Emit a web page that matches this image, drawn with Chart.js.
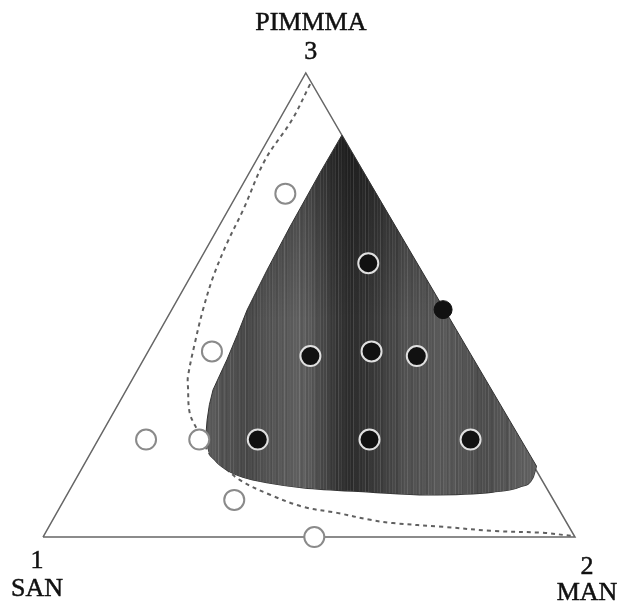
<!DOCTYPE html>
<html>
<head>
<meta charset="utf-8">
<style>
  html, body { margin: 0; padding: 0; background: #fff; }
  #chart { display: block; }
</style>
</head>
<body>
<canvas id="chart" width="621" height="601"></canvas>
<script src="https://cdn.jsdelivr.net/npm/chart.js@4/dist/chart.umd.min.js"></script>
<script>
// compositions are [MAN fraction, PIMMMA fraction]; SAN is what is left
var vertexNames = ['SAN', 'MAN', 'PIMMMA'];
var vertexNumbers = ['1', '2', '3'];
var vertexMan = [0, 1, 0];
var vertexPim = [0, 0, 1];

// open circles
var openMan = [0.09, 0.12, 0.09, 0.19, 0.32, 0.51];
var openPim = [0.74, 0.40, 0.21, 0.21, 0.08, 0.00];

// filled circles
var filledMan = [0.32, 0.31, 0.42, 0.51, 0.30, 0.51, 0.70];
var filledPim = [0.59, 0.39, 0.40, 0.39, 0.21, 0.21, 0.21];

// filled circle sitting on the MAN-PIMMMA side
var edgeMan = [0.51];
var edgePim = [0.49];

// shaded region, upper and lower outline (left to right)
var regionTopMan = [0.195, 0.184, 0.172, 0.163, 0.160, 0.157, 0.150, 0.142, 0.137, 0.134, 0.133, 0.134, 0.852];
var regionTopPim = [0.226, 0.252, 0.285, 0.317, 0.349, 0.382, 0.436, 0.489, 0.575, 0.668, 0.785, 0.866, 0.153];
var regionLowMan = [0.195, 0.214, 0.241, 0.275, 0.312, 0.369, 0.437, 0.567, 0.677, 0.798, 0.843, 0.858, 0.852];
var regionLowPim = [0.226, 0.194, 0.166, 0.144, 0.129, 0.116, 0.106, 0.097, 0.091, 0.097, 0.108, 0.127, 0.153];

// dashed boundary, from the PIMMMA corner down to the MAN corner
var dashMan = [0.020, 0.024, 0.016, 0.028, 0.033, 0.043, 0.059, 0.079, 0.102, 0.113, 0.144, 0.176, 0.227, 0.254, 0.309, 0.382, 0.457, 0.527, 0.597, 0.643, 0.741, 0.840, 0.936, 0.995];
var dashPim = [0.976, 0.899, 0.813, 0.705, 0.634, 0.560, 0.489, 0.418, 0.345, 0.323, 0.267, 0.231, 0.177, 0.159, 0.123, 0.091, 0.065, 0.052, 0.037, 0.030, 0.022, 0.013, 0.009, 0.002];

// the printed triangle leans a little: apex is not quite over the base midpoint
var apexX = 0.494;

function toXY(man, pim) {
  return { x: man + apexX * pim, y: pim };
}
function points(man, pim) {
  return man.map(function(m, i) { return toXY(m, pim[i]); });
}

var triangle = points(vertexMan.concat([vertexMan[0]]), vertexPim.concat([vertexPim[0]]));

// grey scan-like texture for the shaded region
function makeShade() {
  var c = document.createElement('canvas');
  c.width = 621; c.height = 601;
  var g = c.getContext('2d');
  var h = g.createLinearGradient(0, 0, 621, 0);
  h.addColorStop(0, '#5e5e5e');
  h.addColorStop(210 / 621, '#5c5c5c');
  h.addColorStop(245 / 621, '#494949');
  h.addColorStop(280 / 621, '#595959');
  h.addColorStop(305 / 621, '#616161');
  h.addColorStop(330 / 621, '#3e3e3e');
  h.addColorStop(350 / 621, '#2c2c2c');
  h.addColorStop(378 / 621, '#3c3c3c');
  h.addColorStop(405 / 621, '#515151');
  h.addColorStop(445 / 621, '#5a5a5a');
  h.addColorStop(485 / 621, '#4e4e4e');
  h.addColorStop(525 / 621, '#606060');
  h.addColorStop(1, '#606060');
  g.fillStyle = h;
  g.fillRect(0, 0, 621, 601);
  var v = g.createLinearGradient(0, 130, 0, 320);
  v.addColorStop(0, 'rgba(0,0,0,0.35)');
  v.addColorStop(1, 'rgba(0,0,0,0)');
  g.fillStyle = v;
  g.fillRect(0, 0, 621, 601);
  for (var x = 200; x < 550; x += 3) {
    var a = 0.07 * (1 + Math.sin(x * 0.7) * Math.cos(x * 0.23));
    g.fillStyle = 'rgba(255,255,255,' + a.toFixed(3) + ')';
    g.fillRect(x, 0, 1, 601);
  }
  for (var x2 = 201; x2 < 550; x2 += 5) {
    var b = 0.06 * (1 + Math.cos(x2 * 0.31) * Math.sin(x2 * 0.09));
    g.fillStyle = 'rgba(0,0,0,' + b.toFixed(3) + ')';
    g.fillRect(x2, 0, 2, 601);
  }
  return g.createPattern(c, 'no-repeat');
}

var labelOffsets = [
  // number dx, dy, name dx, dy
  [-6, 24, -6, 52],
  [12, 30, 12, 56],
  [5, -21, 5, -50]
];

var vertexLabels = {
  id: 'vertexLabels',
  afterDatasetsDraw: function(chart) {
    var ctx = chart.ctx;
    var xs = chart.scales.x, ys = chart.scales.y;
    ctx.save();
    ctx.font = '26px "Liberation Serif", serif';
    ctx.fillStyle = '#111';
    ctx.strokeStyle = '#111';
    ctx.lineWidth = 0.5;
    ctx.textAlign = 'center';
    ctx.textBaseline = 'middle';
    vertexNames.forEach(function(name, i) {
      var p = toXY(vertexMan[i], vertexPim[i]);
      var px = xs.getPixelForValue(p.x), py = ys.getPixelForValue(p.y);
      var o = labelOffsets[i];
      ctx.fillText(vertexNumbers[i], px + o[0], py + o[1]);
      ctx.strokeText(vertexNumbers[i], px + o[0], py + o[1]);
      ctx.fillText(name, px + o[2], py + o[3]);
      ctx.strokeText(name, px + o[2], py + o[3]);
    });
    ctx.restore();
  }
};

var config = {
  type: 'line',
  data: {
    datasets: [{
      label: 'filled',
      data: points(filledMan, filledPim),
      showLine: false,
      pointRadius: 10,
      pointBackgroundColor: '#111',
      pointBorderColor: '#e0e0e0',
      pointBorderWidth: 2
    }, {
      label: 'edge',
      data: points(edgeMan, edgePim),
      showLine: false,
      pointRadius: 9,
      pointBackgroundColor: '#111',
      pointBorderColor: '#111',
      pointBorderWidth: 1
    }, {
      label: 'open',
      data: points(openMan, openPim),
      showLine: false,
      pointRadius: 10,
      pointBackgroundColor: '#fff',
      pointBorderColor: '#8a8a8a',
      pointBorderWidth: 2
    }, {
      label: 'region top',
      data: points(regionTopMan, regionTopPim),
      borderColor: '#333',
      borderWidth: 1,
      pointRadius: 0,
      tension: 0,
      fill: '+1',
      backgroundColor: makeShade()
    }, {
      label: 'region low',
      data: points(regionLowMan, regionLowPim),
      borderColor: '#333',
      borderWidth: 1.3,
      pointRadius: 0,
      cubicInterpolationMode: 'monotone',
      fill: false
    }, {
      label: 'dashed',
      data: points(dashMan, dashPim),
      borderColor: '#606060',
      borderWidth: 2,
      borderDash: [4, 4],
      pointRadius: 0,
      tension: 0.35,
      fill: false
    }, {
      label: 'triangle',
      data: triangle,
      borderColor: '#666',
      borderWidth: 1.5,
      pointRadius: 0,
      tension: 0,
      fill: false
    }]
  },
  options: {
    responsive: false,
    animation: false,
    layout: { padding: 0, autoPadding: false },
    plugins: {
      legend: { display: false },
      tooltip: { enabled: false }
    },
    scales: {
      x: { type: 'linear', display: false, min: -0.0808, max: 1.0865 },
      y: { type: 'linear', display: false, min: -0.1379, max: 1.1573 }
    }
  },
  plugins: [vertexLabels]
};

var ctx = document.getElementById('chart').getContext('2d');
window.myChart = new Chart(ctx, config);
</script>
</body>
</html>
